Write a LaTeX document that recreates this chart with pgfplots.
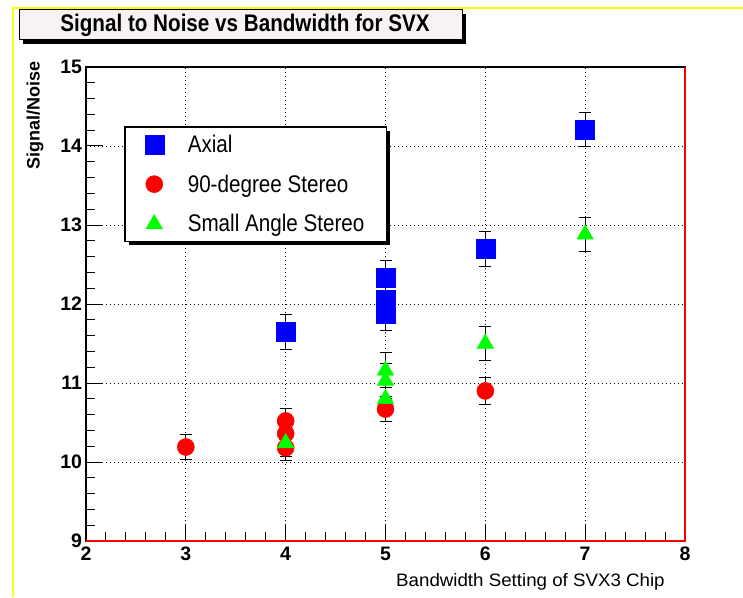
\documentclass[border=0pt]{standalone}
\usepackage{pgfplots}
\usepackage{pgfplotstable}
\pgfplotsset{compat=1.18}
\usepackage{fontspec}
\setmainfont{Liberation Sans}
\newfontfamily\narrowsans[FakeStretch=0.86]{Liberation Sans}
\newfontfamily\widesans[FakeStretch=1.04]{Liberation Sans}
\usetikzlibrary{shadows}

\definecolor{titlefill}{RGB}{246,242,246}
\definecolor{rootblue}{RGB}{0,0,255}
\definecolor{rootred}{RGB}{255,0,0}
\definecolor{rootgreen}{RGB}{0,255,0}
\definecolor{frameyellow}{RGB}{255,255,0}

% bandwidth setting, signal/noise, error
\pgfplotstableread{
x y ey
4 11.65 0.22
5 12.33 0.22
5 12.05 0.22
5 11.88 0.22
6 12.70 0.22
7 14.21 0.22
}\axialdata

\pgfplotstableread{
x y ey
3 10.19 0.16
4 10.52 0.16
4 10.36 0.16
4 10.18 0.16
5 10.67 0.16
6 10.90 0.17
}\stereodata

\pgfplotstableread{
x y ey
4 10.24 0.17
5 11.16 0.22
5 11.03 0.22
5 10.80 0.20
6 11.50 0.21
7 12.88 0.21
}\smallangledata

\begin{document}
\begin{tikzpicture}[x=1pt,y=1pt]
% canvas frame
\draw[frameyellow, line width=2pt] (13,0) -- (13,589) -- (743,589);

\begin{axis}[
  at={(86pt,56pt)}, anchor=south west,
  scale only axis, width=599pt, height=474pt,
  xmin=2, xmax=8, ymin=9, ymax=15,
  xtick={2,3,4,5,6,7,8}, ytick={9,10,11,12,13,14,15},
  minor tick num=4,
  tick align=inside,
  xtick pos=bottom, ytick pos=left,
  major tick length=17pt, minor tick length=9pt,
  tick style={black, line width=1pt},
  axis line style={black, line width=1.2pt},
  grid=major,
  major grid style={black, line width=0.9pt, dash pattern=on 0.9pt off 3.1pt},
  /pgf/number format/assume math mode=true,
  ticklabel style={font=\fontsize{19.5}{19.5}\selectfont\bfseries},
  yticklabel style={xshift=-0.5pt},
  xticklabel style={yshift=-2.5pt},
  clip=false,
  xlabel={Bandwidth Setting of SVX3 Chip},
  xlabel style={at={(axis description cs:0.972,-0.0865)}, anchor=east,
    font=\fontsize{18}{18}\selectfont\widesans},
  ylabel={Signal/Noise},
  ylabel style={at={(axis description cs:-0.085,1.019)}, anchor=east,
    font=\fontsize{18}{18}\selectfont\bfseries},
  legend cell align=left,
  legend style={
    at={(rel axis cs:0.0634,0.8755)}, anchor=north west,
    draw=black, line width=1.6pt, fill=white,
    drop shadow={shadow xshift=4pt, shadow yshift=-4pt, opacity=1, fill=black},
    font=\fontsize{24}{24}\selectfont\narrowsans,
    inner xsep=20pt, inner ysep=6pt,
    row sep=17pt,
    /tikz/every odd column/.append style={column sep=22pt},
  },
  error bars/y dir=both,
  error bars/y explicit,
  error bars/error bar style={black, line width=1pt},
  error bars/error mark options={rotate=90, black, line width=1pt, mark size=6pt},
]
\addplot[only marks, mark=square*, mark size=9.5pt,
  mark options={draw=rootblue, fill=rootblue, line width=0.5pt}]
  table[x=x, y=y, y error=ey] {\axialdata};
\addlegendentry{Axial}
\addplot[only marks, mark=*, mark size=8.5pt,
  mark options={draw=rootred, fill=rootred, line width=0.5pt}]
  table[x=x, y=y, y error=ey] {\stereodata};
\addlegendentry{90-degree Stereo}
\addplot[only marks, mark=triangle*, mark size=9.5pt,
  mark options={draw=rootgreen, fill=rootgreen, line width=0.5pt}]
  table[x=x, y=y, y error=ey] {\smallangledata};
\addlegendentry{Small Angle Stereo}

% bottom and right frame lines
\draw[rootred, line width=2pt] (rel axis cs:0,0) -- (rel axis cs:1,0) -- (rel axis cs:1,1);
\end{axis}

% title box
\fill[black] (23,553) rectangle (466,583);
\draw[black, line width=1pt, fill=titlefill] (19,557) rectangle (462,587);
\node[font=\fontsize{24}{24}\selectfont\bfseries\narrowsans] at (245,572) {Signal to Noise vs Bandwidth for SVX};

\pgfresetboundingbox
\useasboundingbox (0,0) rectangle (743,597);
\end{tikzpicture}
\end{document}
